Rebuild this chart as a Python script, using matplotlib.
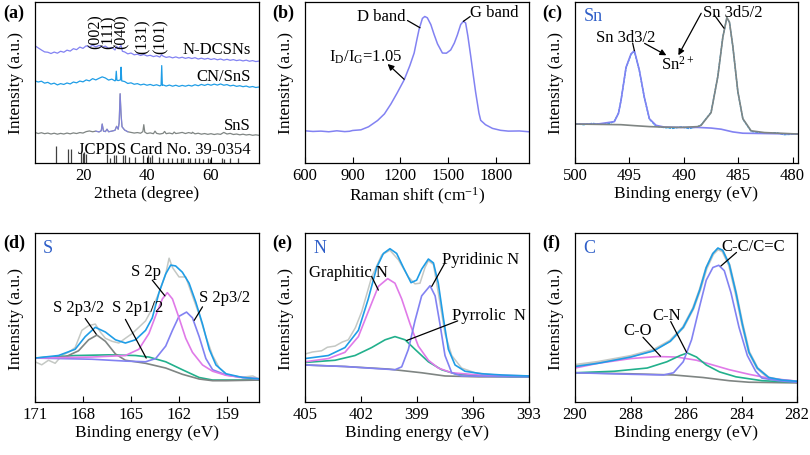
import numpy as np
import matplotlib
matplotlib.use("Agg")
import matplotlib.pyplot as plt

plt.rcParams['font.family'] = ['Liberation Serif', 'DejaVu Serif']
plt.rcParams['mathtext.fontset'] = 'custom'
plt.rcParams['mathtext.rm'] = 'Liberation Serif'
plt.rcParams['mathtext.it'] = 'Liberation Serif:italic'

# colours of the fit components
CYAN = '#1f9de6'
LAV = '#8282f2'
PINK = '#e07ae8'
GREEN = '#22b08c'
GRAY = '#7f8583'
LIGHT = '#c4c8c4'
ELEM = '#2f5fc8'

# ---------------- (a) XRD, (2theta, intensity %) ----------------
xrdNDCSN = [(5,72.8),(6,71.5),(7,70.2),(8,69.0),(9,68.8),(10,68.0),(11,68.9),(12,68.2),(13,69.4),(14,68.8),
            (15,70.1),(16,69.5),(17,71.0),(18,70.4),(19,72.0),(20,71.2),(21,72.8),(22,71.9),(23,73.2),(24,72.1),
            (25,73.0),(26,72.0),(27,72.6),(28,71.2),(29,71.8),(30,70.2),(30.5,72.5),(31,71.0),(31.9,73.0),(32.3,69.4),
            (33,69.0),(34,67.8),(35,68.3),(36,67.2),(37,67.6),(38,66.8),(39,67.4),(40,66.5),(41,66.9),(42,66.1),
            (43,66.6),(44,65.8),(44.6,67.3),(45,66.4),(46,65.6),(47,66.0),(48,65.3),(49,65.9),(50,65.2),(51,65.7),
            (52,65.0),(53,65.5),(54,64.9),(55,65.4),(56,64.6),(57,65.1),(58,64.5),(59,65.0),(60,64.3),(61,64.8),
            (62,64.1),(63,64.6),(64,63.9),(65,64.4),(66,63.8),(67,64.2),(68,63.6),(69,64.0),(70,63.4),(71,63.9),
            (72,63.2),(73,63.6),(74,63.0),(75,63.3)]
xrdCNSnS = [(5,51.0),(6,50.3),(7,50.8),(8,49.6),(9,50.1),(10,49.0),(11,49.6),(12,48.5),(13,49.3),(14,48.8),
            (15,49.7),(16,49.1),(17,50.3),(18,49.8),(19,50.9),(20,50.4),(21,51.6),(22,51.0),(23,52.4),(24,51.6),
            (25,52.6),(26,53.5),(27,52.8),(28,51.5),(29,52.1),(30,51.0),(30.2,51.5),(30.4,57.0),(30.6,51.4),(31,51.2),
            (31.7,51.6),(31.9,59.5),(32.1,51.0),(33,50.6),(34,49.4),(35,49.8),(36,48.9),(37,49.3),(38,48.5),(39,49.0),
            (40,48.3),(41,48.8),(42,48.1),(43,48.6),(44,47.9),(44.4,48.3),(44.6,60.5),(44.8,48.2),(45,48.5),(46,47.8),
            (47,48.4),(48,47.7),(49,48.3),(50,47.6),(51,48.2),(52,47.7),(53,48.3),(54,47.8),(55,48.6),(56,48.0),
            (57,48.8),(58,48.2),(59,48.9),(60,48.3),(61,49.0),(62,48.4),(63,49.1),(64,48.3),(65,48.7),(66,47.9),
            (67,48.3),(68,47.6),(69,48.0),(70,47.4),(71,47.8),(72,47.1),(73,47.5),(74,46.9),(75,47.2)]
xrdSnS = [(5,19.0),(6,18.3),(7,18.8),(8,18.2),(9,18.6),(10,18.0),(11,18.5),(12,17.9),(13,18.4),(14,18.0),
          (15,18.6),(16,18.1),(17,18.7),(18,18.3),(19,18.9),(20,18.6),(21,19.5),(22,19.9),(23,19.4),(24,19.8),
          (25,19.3),(25.7,20.0),(26.0,24.2),(26.4,19.8),(27,19.5),(27.5,21.0),(28,19.4),(29,19.8),(30,20.3),(30.5,22.8),
          (31,21.0),(31.3,25.0),(31.6,43.0),(31.9,30.0),(32.2,22.5),(33,20.5),(34,19.4),(35,19.0),(36,18.6),(37,18.9),
          (38,18.5),(38.7,19.5),(39.0,23.8),(39.3,19.2),(40,18.3),(41,18.7),(42,18.2),(42.5,19.8),(43,18.4),(44,18.0),
          (45,18.4),(45.5,19.6),(46,18.2),(47,18.6),(48,18.1),(48.5,19.2),(49,18.3),(50,18.6),(51,19.0),(52,18.3),
          (53,18.9),(54,18.4),(54.2,19.1),(55,18.1),(56,18.5),(57,17.9),(58,18.3),(59,17.8),(60,18.2),(61,17.7),
          (62,18.1),(63,17.8),(64,19.0),(65,18.0),(66,18.4),(67,17.7),(68,18.0),(69,17.5),(70,17.9),(71,17.4),
          (72,17.7),(73,17.2),(74,17.5),(75,17.2)]
jcpdsPos = [11.5, 15.2, 16.3, 19.4, 19.9, 20.4, 20.9, 27.4, 28.4, 29.8, 30.3, 32.6, 33.1, 34.5, 36.3, 38.6,
            40.4, 41.0, 41.5, 43.8, 45.1, 46.5, 47.9, 49.3, 50.6, 51.2, 52.9, 53.4, 55.0, 56.3, 57.5, 59.2,
            59.6, 63.3, 64.0, 65.9, 68.5]
jcpdsHeight = [10.5, 8.8, 8.8, 7.5, 6.5, 7.0, 5.7, 5.7, 3.3, 5.0, 5.0, 4.8, 4.8, 3.8, 3.8, 4.7,
               4.9, 3.8, 4.7, 3.8, 3.0, 3.0, 3.0, 3.0, 3.0, 2.8, 3.0, 2.8, 2.8, 3.0, 2.5, 3.0,
               2.6, 3.0, 2.6, 3.0, 3.0]
planeLabels = ['(002)', '(111)', '(040)', '(131)', '(101)']
planePos = [23.9, 27.9, 32.1, 38.7, 44.4]

# ---------------- (b) Raman ----------------
raman = [(600,20.0),(650,19.6),(700,19.8),(750,19.4),(800,20.0),(850,19.5),(880,19.7),(900,20.2),(952,20.6),
         (1000,22.5),(1057,26.4),(1100,30.5),(1141,36.7),(1180,43.5),(1224,51.6),(1260,60.5),(1287,68.3),
         (1305,77.0),(1318,83.0),(1339,89.8),(1354,91.0),(1370,90.2),(1392,86.0),(1412,80.0),(1434,74.0),
         (1465,68.3),(1490,68.2),(1517,70.2),(1540,74.5),(1559,79.5),(1580,86.0),(1597,88.0),(1611,87.0),
         (1625,79.0),(1643,66.5),(1660,54.0),(1674,44.0),(1695,31.0),(1706,26.5),(1736,23.8),(1780,21.5),
         (1831,20.3),(1880,19.8),(1950,19.9),(2010,19.4)]

# ---------------- (c) Sn 3d ----------------
snRaw = [(500.0,24.4),(499.2,23.8),(498.4,24.6),(497.6,24.0),(496.8,24.6),(496.38,26.0),(496.0,31.0),(495.77,39.0),
         (495.31,59.0),(494.85,67.5),(494.54,69.4),(494.08,57.2),(493.62,40.4),(493.16,27.3),(492.55,22.8),
         (491.8,22.0),(491.0,21.5),(490.25,22.4),(489.5,21.4),(488.71,22.6),(488.41,23.6),(487.49,31.5),
         (486.87,53.9),(486.41,78.3),(486.04,90.1),(485.80,87.3),(485.49,72.3),(485.03,44.2),(484.57,27.3),
         (483.81,19.6),(482.58,18.5),(481.5,18.8),(480.8,17.6),(479.5,18.0)]
sn3d3 = [(500.0,24.2),(497.91,24.2),(496.38,25.7),(496.0,31.0),(495.77,38.8),(495.31,59.4),(494.85,67.8),
         (494.54,69.7),(494.08,57.5),(493.62,40.6),(493.16,27.5),(492.55,23.4),(491.78,22.3),(490.25,22.1),
         (488.71,22.1),(487.49,21.7),(486.57,21.0),(485.49,19.3),(484.57,18.5),(482.58,18.3),(479.5,18.0)]
sn3d5 = [(500.0,24.2),(497.91,24.0),(495.77,23.8),(494.54,23.2),(493.16,22.6),(491.78,22.3),(490.25,22.1),
         (488.71,22.6),(488.41,23.4),(487.49,31.3),(486.87,53.7),(486.41,78.1),(486.04,90.3),(485.80,87.5),
         (485.49,72.5),(485.03,44.4),(484.57,27.5),(483.81,20.0),(482.58,18.9),(479.5,18.0)]

# ---------------- (d) S 2p ----------------
sRaw = [(171.0,23.8),(170.58,22.0),(170.16,24.7),(169.74,22.9),(169.32,27.5),(168.91,29.4),(168.49,32.2),
        (168.07,42.4),(167.65,45.2),(167.23,46.1),(166.92,41.4),(166.60,37.7),(166.18,35.9),(165.76,34.9),
        (165.35,37.7),(164.93,40.5),(164.51,44.2),(164.09,48.0),(163.67,55.4),(163.25,64.7),(162.83,75.8),
        (162.62,85.1),(162.41,79.6),(162.00,74.0),(161.58,74.0),(161.37,68.4),(161.16,62.8),(160.74,51.7),
        (160.32,38.7),(159.90,27.5),(159.48,20.1),(159.06,16.4),(158.23,14.5),(157.39,15.4),(156.97,13.6)]
sEnv = [(171.0,26.0),(169.53,27.5),(168.49,31.2),(167.86,38.7),(167.23,44.2),(166.60,41.4),(165.97,36.8),
        (165.35,34.9),(164.72,36.8),(164.09,42.4),(163.67,49.8),(163.25,64.7),(162.83,75.8),(162.52,81.0),
        (162.21,80.5),(161.79,76.8),(161.37,70.3),(160.95,59.1),(160.53,46.1),(160.11,31.2),(159.69,21.9),
        (159.06,16.7),(158.02,14.5),(156.87,13.6)]
s2p = [(171.0,26.0),(167.44,26.6),(165.35,27.5),(164.51,31.2),(163.88,40.5),(163.36,53.5),(163.04,61.0),
       (162.73,64.7),(162.41,61.0),(162.00,49.8),(161.58,37.7),(161.16,29.4),(160.53,21.9),(159.90,18.2),
       (159.06,15.8),(158.02,14.5),(156.87,13.6)]
s2p32b = [(171.0,26.0),(167.44,25.3),(165.35,24.2),(164.09,23.8),(163.46,25.7),(162.83,33.1),(162.41,42.4),
          (162.00,50.7),(161.53,53.2),(161.16,49.8),(160.74,38.7),(160.32,25.7),(159.90,19.1),(159.06,16.0),
          (158.02,14.5),(156.87,13.6)]
s2p32a = [(171.0,26.0),(169.12,26.6),(168.28,30.3),(167.65,36.8),(167.13,39.6),(166.60,35.9),(165.97,28.4),
          (165.35,24.7),(164.09,22.9),(162.83,20.1),(161.79,16.4),(160.74,13.6),(159.90,12.6),(159.06,12.6),
          (156.87,13.0)]
s2p12 = [(171.0,26.0),(168.49,27.5),(166.39,27.9),(164.72,27.5),(163.88,26.6),(162.83,23.8),(161.79,19.1),
         (160.74,14.5),(159.90,13.0),(156.87,13.0)]

# ---------------- (e) N 1s ----------------
nRaw = [(405.0,28.4),(404.6,29.6),(404.11,30.3),(403.8,32.4),(403.39,33.1),(403.0,35.5),(402.68,36.8),
        (402.3,44.0),(401.96,53.5),(401.43,73.9),(400.89,87.0),(400.45,89.8),(400.0,84.2),(399.46,74.0),
        (399.11,69.9),(398.84,70.3),(398.57,79.6),(398.39,83.6),(398.12,81.4),(397.86,64.7),(397.5,40.5),
        (397.14,27.5),(396.61,20.1),(395.89,17.3),(394.82,16.0),(393.93,14.9),(393.0,15.4)]
nEnv = [(405.0,25.7),(403.75,27.5),(402.86,32.2),(402.14,42.4),(401.61,61.0),(401.16,79.6),(400.80,87.9),
        (400.45,90.7),(400.09,87.9),(399.73,79.6),(399.32,70.6),(399.02,72.1),(398.75,78.6),(398.39,84.6),
        (398.12,82.3),(397.86,70.3),(397.59,49.8),(397.32,31.2),(396.96,21.9),(396.43,18.2),(395.53,16.7),
        (394.46,16.0),(393.0,15.4)]
nGraph = [(405.0,23.8),(403.75,25.7),(402.86,29.4),(402.14,38.7),(401.61,53.5),(401.07,68.4),(400.57,73.0),
          (400.18,70.3),(399.82,61.0),(399.37,46.1),(398.93,33.1),(398.39,24.7),(397.86,20.1),(397.14,17.3),
          (395.71,16.0),(393.0,15.4)]
nPyrrol = [(405.0,23.4),(403.39,24.7),(402.32,27.5),(401.43,32.2),(400.71,36.8),(400.18,38.7),(399.64,36.8),
           (399.11,31.2),(398.39,23.8),(397.68,19.1),(396.96,16.7),(395.71,15.4),(393.0,14.9)]
nPyrid = [(405.0,21.9),(402.86,21.0),(401.07,19.7),(400.18,19.1),(399.82,20.8),(399.46,31.2),(399.11,48.0),
          (398.75,62.8),(398.30,68.8),(398.03,62.8),(397.77,46.1),(397.50,27.5),(397.14,17.3),(396.61,15.4),
          (393.0,14.9)]
nBase = [(405.0,21.9),(402.86,21.0),(400.54,19.5),(398.75,17.3),(397.50,15.4),(395.71,14.9),(393.0,14.9)]

# ---------------- (f) C 1s ----------------
cRaw = [(290.0,21.8),(289.17,23.6),(287.99,27.1),(287.16,30.8),(286.57,36.2),(286.10,44.2),(285.74,55.4),
        (285.50,66.3),(285.27,79.0),(285.03,87.5),(284.85,90.5),(284.68,89.3),(284.44,81.0),(284.20,64.3),
        (283.97,46.0),(283.73,29.5),(283.43,20.0),(283.02,14.3),(282.55,12.8),(282.0,12.0)]
cEnv = [(290.0,21.0),(289.17,22.9),(287.99,26.6),(287.16,30.3),(286.57,35.9),(286.10,44.2),(285.74,55.4),
        (285.50,66.5),(285.27,79.6),(285.03,87.9),(284.85,91.1),(284.68,89.8),(284.44,81.4),(284.20,64.7),
        (283.97,46.1),(283.73,29.4),(283.43,20.1),(283.02,14.5),(282.55,13.0),(282.0,12.3)]
cCC = [(290.0,17.3),(287.99,16.4),(286.81,16.0),(286.45,17.3),(286.10,23.8),(285.80,36.8),(285.50,57.2),
       (285.27,72.1),(285.03,79.6),(284.82,80.9),(284.62,77.7),(284.38,64.7),(284.09,44.2),(283.79,27.5),
       (283.49,18.2),(283.26,14.1),(282.67,12.6),(282.0,11.7)]
cCO = [(290.0,20.1),(289.17,22.9),(287.99,25.7),(287.04,26.9),(286.33,26.6),(285.62,24.7),(285.03,21.9),
       (284.44,19.1),(283.73,16.4),(283.02,14.1),(282.0,12.3)]
cCN = [(290.0,17.3),(288.58,18.2),(287.40,20.1),(286.69,23.8),(286.21,27.5),(285.95,29.0),(285.62,26.6),
       (285.27,21.9),(284.79,17.8),(284.20,14.9),(283.26,12.6),(282.0,11.7)]
cBase = [(290.0,17.3),(287.99,16.7),(286.45,16.0),(285.39,14.5),(284.44,12.6),(283.73,11.7),(282.0,11.3)]


def xy(pairs):
    arr = np.array(pairs, dtype=float)
    return arr[:, 0], arr[:, 1]


def curve(ax, pairs, color, lw=1.2, **kw):
    x, y = xy(pairs)
    ax.plot(x, y, color=color, lw=lw, **kw)


def styleAxis(ax, xlim, ticks, xlabel):
    ax.set_xlim(*xlim)
    ax.set_ylim(0, 100)
    ax.set_xticks(ticks)
    ax.set_yticks([])
    ax.tick_params(axis='x', direction='in', length=4, width=0.8, pad=3, labelsize=12)
    ax.set_xlabel(xlabel, fontsize=12.5, labelpad=1)
    ax.set_ylabel('Intensity (a.u.)', fontsize=12.5, labelpad=8)
    for s in ax.spines.values():
        s.set_linewidth(0.9)


def leader(ax, start, end, head=False):
    style = '-|>' if head else '-'
    ax.annotate('', xy=end, xytext=start,
                arrowprops=dict(arrowstyle=style, lw=0.9, color='k', mutation_scale=9,
                                shrinkA=0, shrinkB=0))


def px(l, r, t, b):
    # pixel box -> figure fraction
    return [l / 810, 1 - b / 456, (r - l) / 810, (b - t) / 456]


fig = plt.figure(figsize=(8.1, 4.56), dpi=100)
TOP = (3, 164)
BOT = (234, 403)
axA = fig.add_axes(px(35, 259, *TOP))
axB = fig.add_axes(px(305, 529, *TOP))
axC = fig.add_axes(px(575, 798, *TOP))
axD = fig.add_axes(px(35, 259, *BOT))
axE = fig.add_axes(px(305, 529, *BOT))
axF = fig.add_axes(px(575, 797, *BOT))

# (a)
curve(axA, xrdNDCSN, LAV, lw=0.9)
curve(axA, xrdCNSnS, CYAN, lw=0.9)
curve(axA, xrdSnS, GRAY, lw=0.9)
curve(axA, [p for p in xrdSnS if 24 <= p[0] <= 34], LAV, lw=0.8, alpha=0.8)
axA.vlines(jcpdsPos, 0, jcpdsHeight, color='#404040', lw=0.9)
for lab, x in zip(planeLabels, planePos):
    yc = 82 if x < 35 else 79
    axA.text(x, yc, lab, rotation=90, ha='center', va='center', fontsize=11.5)
axA.text(72.4, 70.6, 'N-DCSNs', ha='right', va='center', fontsize=12)
axA.text(72.4, 54.1, 'CN/SnS', ha='right', va='center', fontsize=12)
axA.text(72.4, 23.8, 'SnS', ha='right', va='center', fontsize=12)
axA.text(72.4, 8.8, 'JCPDS Card No. 39-0354', ha='right', va='center', fontsize=12)
styleAxis(axA, (5, 75), [20, 40, 60], '2theta (degree)')

# (b)
curve(axB, raman, LAV, lw=1.1)
axB.text(1078, 91, 'D band', ha='center', va='center', fontsize=12)
axB.text(1790, 93.5, 'G band', ha='center', va='center', fontsize=12)
axB.text(984, 66.5, r'I$_\mathrm{D}$/I$_\mathrm{G}$=1.05', ha='center', va='center', fontsize=12)
leader(axB, (1245, 88.5), (1324, 84))
leader(axB, (1640, 91), (1597, 88))
leader(axB, (1224, 52), (1120, 61.5), head=True)
styleAxis(axB, (600, 2010), [600, 900, 1200, 1500, 1800], r'Raman shift (cm$^{-1}$)')

# (c)
curve(axC, snRaw, CYAN, lw=1.0, ls=(0, (2, 0.6)))
curve(axC, sn3d3, LAV)
curve(axC, sn3d5, GRAY)
axC.text(499.2, 91.5, 'Sn', color=ELEM, ha='left', va='center', fontsize=13)
axC.text(495.3, 78, 'Sn 3d3/2', ha='center', va='center', fontsize=12)
axC.text(485.5, 94, 'Sn 3d5/2', ha='center', va='center', fontsize=12)
axC.text(490.55, 61.5, r'Sn$^{2+}$', ha='center', va='center', fontsize=12)
leader(axC, (494.7, 74.5), (494.54, 69.7))
leader(axC, (487.2, 92), (486.3, 83.7))
leader(axC, (493.6, 74.3), (491.6, 66.9), head=True)
leader(axC, (488.4, 93), (490.5, 66.9), head=True)
styleAxis(axC, (500, 479.5), [500, 495, 490, 485, 480], 'Binding energy (eV)')

# (d)
curve(axD, sRaw, LIGHT, lw=1.1)
curve(axD, s2p12, GREEN)
curve(axD, s2p32a, GRAY)
curve(axD, s2p32b, LAV)
curve(axD, s2p, PINK)
curve(axD, sEnv, CYAN)
axD.text(170.5, 91.6, 'S', color=ELEM, ha='left', va='center', fontsize=13)
axD.text(168.28, 56.3, 'S 2p3/2', ha='center', va='center', fontsize=12)
axD.text(164.61, 56.3, 'S 2p1/2', ha='center', va='center', fontsize=12)
axD.text(164.09, 77.7, 'S 2p', ha='center', va='center', fontsize=12)
axD.text(159.17, 61.9, 'S 2p3/2', ha='center', va='center', fontsize=12)
leader(axD, (167.86, 49.4), (167.17, 40.1))
leader(axD, (165.35, 48.9), (164.05, 26.0))
leader(axD, (163.67, 72.1), (162.88, 62.8))
leader(axD, (160.53, 56.3), (161.05, 48.3))
styleAxis(axD, (171, 157), [171, 168, 165, 162, 159], 'Binding energy (eV)')

# (e)
curve(axE, nRaw, LIGHT, lw=1.1)
curve(axE, nBase, GRAY)
curve(axE, nPyrrol, GREEN)
curve(axE, nGraph, PINK)
curve(axE, nPyrid, LAV)
curve(axE, nEnv, CYAN)
axE.text(404.55, 91.6, 'N', color=ELEM, ha='left', va='center', fontsize=13)
axE.text(402.68, 76.8, 'Graphitic N', ha='center', va='center', fontsize=12)
axE.text(395.62, 84.8, 'Pyridinic N', ha='center', va='center', fontsize=12)
axE.text(395.14, 51.7, 'Pyrrolic  N', ha='center', va='center', fontsize=12)
leader(axE, (401.43, 74.3), (401.07, 66.2))
leader(axE, (397.53, 81.8), (398.21, 68.4))
leader(axE, (396.82, 48.0), (399.55, 36.4))
styleAxis(axE, (405, 393), [405, 402, 399, 396, 393], 'Binding energy (eV)')

# (f)
curve(axF, cRaw, LIGHT, lw=2.0)
curve(axF, cBase, GRAY)
curve(axF, cCO, PINK)
curve(axF, cCN, GREEN)
curve(axF, cCC, LAV)
curve(axF, cEnv, CYAN)
axF.text(289.7, 91.6, 'C', color=ELEM, ha='left', va='center', fontsize=13)
axF.text(283.59, 92.6, 'C-C/C=C', ha='center', va='center', fontsize=12)
axF.text(286.69, 51.7, 'C-N', ha='center', va='center', fontsize=12)
axF.text(287.73, 42.4, 'C-O', ha='center', va='center', fontsize=12)
leader(axF, (284.18, 88.5), (284.74, 80.5))
leader(axF, (286.55, 47.6), (285.98, 29.4))
leader(axF, (287.55, 38.3), (286.92, 27.1))
styleAxis(axF, (290, 282), [290, 288, 286, 284, 282], 'Binding energy (eV)')

# panel letters
for lab, x, y in [('(a)', 3, 13), ('(b)', 272, 13), ('(c)', 542, 13),
                  ('(d)', 3, 243), ('(e)', 272, 243), ('(f)', 542, 243)]:
    fig.text(x / 810, 1 - y / 456, lab, fontsize=13, fontweight='bold', ha='left', va='center')

fig.savefig('out.png', dpi=100)
